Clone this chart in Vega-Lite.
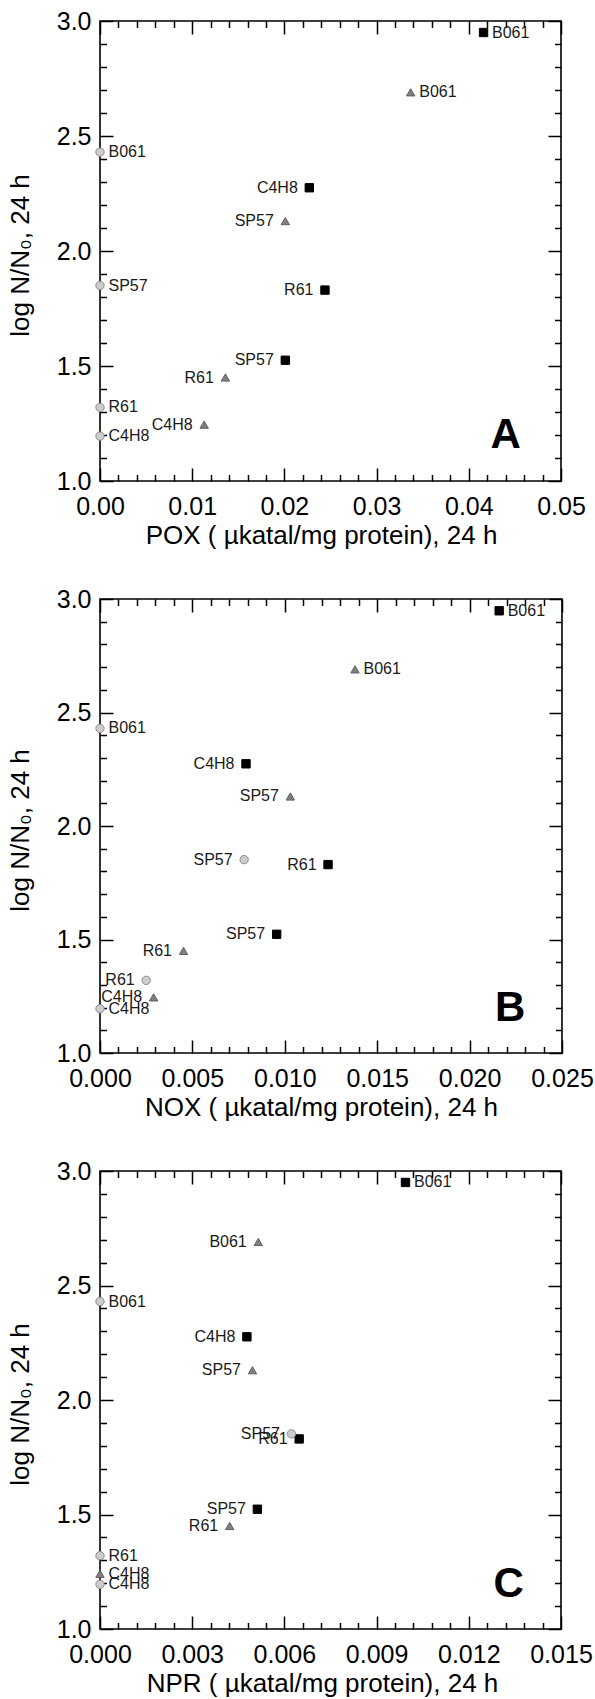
{
  "$schema": "https://vega.github.io/schema/vega-lite/v6.json",
  "background": "white",
  "padding": {"left": 6, "top": 8, "right": 0, "bottom": 0},
  "spacing": 118,
  "bounds": "flush",
  "datasets": {
    "pts": [
      {"panel": "A", "strain": "B061", "group": "sq", "x": 0.0416, "y": 2.95, "side": "right"},
      {"panel": "A", "strain": "C4H8", "group": "sq", "x": 0.0227, "y": 2.275, "side": "left"},
      {"panel": "A", "strain": "R61", "group": "sq", "x": 0.0244, "y": 1.83, "side": "left"},
      {"panel": "A", "strain": "SP57", "group": "sq", "x": 0.0201, "y": 1.525, "side": "left"},
      {"panel": "A", "strain": "B061", "group": "tri", "x": 0.0337, "y": 2.69, "side": "right"},
      {"panel": "A", "strain": "SP57", "group": "tri", "x": 0.0201, "y": 2.13, "side": "left"},
      {"panel": "A", "strain": "R61", "group": "tri", "x": 0.0136, "y": 1.45, "side": "left"},
      {"panel": "A", "strain": "C4H8", "group": "tri", "x": 0.0113, "y": 1.245, "side": "left"},
      {"panel": "A", "strain": "B061", "group": "circ", "x": 0, "y": 2.43, "side": "right"},
      {"panel": "A", "strain": "SP57", "group": "circ", "x": 0, "y": 1.85, "side": "right"},
      {"panel": "A", "strain": "R61", "group": "circ", "x": 0, "y": 1.32, "side": "right"},
      {"panel": "A", "strain": "C4H8", "group": "circ", "x": 0, "y": 1.195, "side": "right"},
      {"panel": "B", "strain": "B061", "group": "sq", "x": 0.0216, "y": 2.948, "side": "right"},
      {"panel": "B", "strain": "C4H8", "group": "sq", "x": 0.0079, "y": 2.274, "side": "left"},
      {"panel": "B", "strain": "R61", "group": "sq", "x": 0.01234, "y": 1.83, "side": "left"},
      {"panel": "B", "strain": "SP57", "group": "sq", "x": 0.00956, "y": 1.523, "side": "left"},
      {"panel": "B", "strain": "B061", "group": "tri", "x": 0.0138, "y": 2.69, "side": "right"},
      {"panel": "B", "strain": "SP57", "group": "tri", "x": 0.0103, "y": 2.13, "side": "left"},
      {"panel": "B", "strain": "R61", "group": "tri", "x": 0.00452, "y": 1.45, "side": "left"},
      {"panel": "B", "strain": "C4H8", "group": "tri", "x": 0.0029, "y": 1.245, "side": "left"},
      {"panel": "B", "strain": "B061", "group": "circ", "x": 0, "y": 2.43, "side": "right"},
      {"panel": "B", "strain": "SP57", "group": "circ", "x": 0.0078, "y": 1.852, "side": "left"},
      {"panel": "B", "strain": "R61", "group": "circ", "x": 0.0025, "y": 1.32, "side": "left"},
      {"panel": "B", "strain": "C4H8", "group": "circ", "x": 0, "y": 1.195, "side": "right"},
      {"panel": "C", "strain": "B061", "group": "sq", "x": 0.00994, "y": 2.95, "side": "right"},
      {"panel": "C", "strain": "C4H8", "group": "sq", "x": 0.00478, "y": 2.276, "side": "left"},
      {"panel": "C", "strain": "R61", "group": "sq", "x": 0.00648, "y": 1.83, "side": "left"},
      {"panel": "C", "strain": "SP57", "group": "sq", "x": 0.00512, "y": 1.523, "side": "left"},
      {"panel": "C", "strain": "B061", "group": "tri", "x": 0.00515, "y": 2.69, "side": "left"},
      {"panel": "C", "strain": "SP57", "group": "tri", "x": 0.00496, "y": 2.13, "side": "left"},
      {"panel": "C", "strain": "R61", "group": "tri", "x": 0.00422, "y": 1.45, "side": "left"},
      {"panel": "C", "strain": "C4H8", "group": "tri", "x": 0, "y": 1.241, "side": "right"},
      {"panel": "C", "strain": "B061", "group": "circ", "x": 0, "y": 2.43, "side": "right"},
      {"panel": "C", "strain": "SP57", "group": "circ", "x": 0.00623, "y": 1.852, "side": "left"},
      {"panel": "C", "strain": "R61", "group": "circ", "x": 0, "y": 1.32, "side": "right"},
      {"panel": "C", "strain": "C4H8", "group": "circ", "x": 0, "y": 1.195, "side": "right"}
    ],
    "letters": [
      {"panel": "A", "letter": "A", "x": 0.044, "y": 1.2},
      {"panel": "B", "letter": "B", "x": 0.0222, "y": 1.2},
      {"panel": "C", "letter": "C", "x": 0.0133, "y": 1.195}
    ]
  },
  "vconcat": [
    {
      "width": 461, "height": 460,
      "data": {"name": "pts"},
      "transform": [{"filter": "datum.panel === 'A'"}],
      "resolve": {"axis": {"x": "independent", "y": "independent"}},
      "layer": [
        {
          "mark": {"type": "point", "filled": true, "opacity": 1, "size": 70, "strokeWidth": 1},
          "encoding": {
            "x": {"field": "x", "type": "quantitative", "scale": {"domain": [0, 0.05], "nice": false, "zero": false},
              "axis": {"orient": "bottom", "title": "POX ( µkatal/mg protein), 24 h", "format": ".2f", "values": [0, 0.01, 0.02, 0.03, 0.04, 0.05], "grid": false, "domain": false, "ticks": true, "tickSize": -13, "tickColor": "#000000", "tickWidth": 1.5, "labelPadding": 26, "labelFlush": false, "labelFont": "Liberation Sans", "labelFontSize": 25, "labelColor": "#000000", "titleFont": "Liberation Sans", "titleFontSize": 26, "titleFontWeight": "normal", "titleColor": "#000000", "titleX": 221, "titleY": 62, "titleAlign": "center", "titleBaseline": "alphabetic", "titleAngle": 0}},
            "y": {"field": "y", "type": "quantitative", "scale": {"domain": [1, 3], "nice": false, "zero": false},
              "axis": {"orient": "left", "title": "log N/N₀, 24 h", "format": ".1f", "values": [1, 1.5, 2, 2.5, 3], "grid": false, "domain": false, "ticks": true, "tickSize": -13, "tickColor": "#000000", "tickWidth": 1.5, "labelPadding": 22, "labelFont": "Liberation Sans", "labelFontSize": 25, "labelColor": "#000000", "titleFont": "Liberation Sans", "titleFontSize": 26, "titleFontWeight": "normal", "titleColor": "#000000", "titleX": -72, "titleY": 234, "titleAngle": 270, "titleAlign": "center", "titleBaseline": "alphabetic"}},
            "shape": {"field": "group", "type": "nominal", "scale": {"domain": ["sq", "tri", "circ"], "range": ["square", "triangle-up", "circle"]}, "legend": null},
            "fill": {"field": "group", "type": "nominal", "scale": {"domain": ["sq", "tri", "circ"], "range": ["#000000", "#808080", "#cccccc"]}, "legend": null},
            "stroke": {"field": "group", "type": "nominal", "scale": {"domain": ["sq", "tri", "circ"], "range": ["#000000", "#606060", "#8a8a8a"]}, "legend": null}
          }
        },
        {
          "mark": {"type": "point", "opacity": 0},
          "encoding": {
            "x": {"field": "x", "type": "quantitative", "scale": {"domain": [0, 0.05], "nice": false, "zero": false},
              "axis": {"orient": "bottom", "title": null, "labels": false, "grid": false, "domain": false, "values": [0.002, 0.004, 0.006, 0.008, 0.012, 0.014, 0.016, 0.018, 0.022, 0.024, 0.026, 0.028, 0.032, 0.034, 0.036, 0.038, 0.042, 0.044, 0.046, 0.048], "ticks": true, "tickSize": -6.5, "tickColor": "#000000", "tickWidth": 1.5}},
            "y": {"field": "y", "type": "quantitative", "scale": {"domain": [1, 3], "nice": false, "zero": false},
              "axis": {"orient": "left", "title": null, "labels": false, "grid": false, "domain": false, "values": [1.1, 1.2, 1.3, 1.4, 1.6, 1.7, 1.8, 1.9, 2.1, 2.2, 2.3, 2.4, 2.6, 2.7, 2.8, 2.9], "ticks": true, "tickSize": -6.5, "tickColor": "#000000", "tickWidth": 1.5}}
          }
        },
        {
          "mark": {"type": "point", "opacity": 0},
          "encoding": {
            "x": {"field": "x", "type": "quantitative", "scale": {"domain": [0, 0.05], "nice": false, "zero": false},
              "axis": {"orient": "top", "title": null, "labels": false, "grid": false, "domain": false, "values": [0, 0.01, 0.02, 0.03, 0.04, 0.05], "ticks": true, "tickSize": -13, "tickColor": "#000000", "tickWidth": 1.5}},
            "y": {"field": "y", "type": "quantitative", "scale": {"domain": [1, 3], "nice": false, "zero": false},
              "axis": {"orient": "right", "title": null, "labels": false, "grid": false, "domain": false, "values": [1, 1.5, 2, 2.5, 3], "ticks": true, "tickSize": -13, "tickColor": "#000000", "tickWidth": 1.5}}
          }
        },
        {
          "mark": {"type": "point", "opacity": 0},
          "encoding": {
            "x": {"field": "x", "type": "quantitative", "scale": {"domain": [0, 0.05], "nice": false, "zero": false},
              "axis": {"orient": "top", "title": null, "labels": false, "grid": false, "domain": false, "values": [0.002, 0.004, 0.006, 0.008, 0.012, 0.014, 0.016, 0.018, 0.022, 0.024, 0.026, 0.028, 0.032, 0.034, 0.036, 0.038, 0.042, 0.044, 0.046, 0.048], "ticks": true, "tickSize": -6.5, "tickColor": "#000000", "tickWidth": 1.5}},
            "y": {"field": "y", "type": "quantitative", "scale": {"domain": [1, 3], "nice": false, "zero": false},
              "axis": {"orient": "right", "title": null, "labels": false, "grid": false, "domain": false, "values": [1.1, 1.2, 1.3, 1.4, 1.6, 1.7, 1.8, 1.9, 2.1, 2.2, 2.3, 2.4, 2.6, 2.7, 2.8, 2.9], "ticks": true, "tickSize": -6.5, "tickColor": "#000000", "tickWidth": 1.5}}
          }
        },
        {
          "transform": [{"filter": "datum.side === 'right'"}],
          "mark": {"type": "text", "align": "left", "baseline": "middle", "dx": 8.5, "fontSize": 16, "font": "Liberation Sans", "color": "#1a1a1a"},
          "encoding": {
            "x": {"field": "x", "type": "quantitative", "scale": {"domain": [0, 0.05], "nice": false, "zero": false}, "axis": null},
            "y": {"field": "y", "type": "quantitative", "scale": {"domain": [1, 3], "nice": false, "zero": false}, "axis": null},
            "text": {"field": "strain"}
          }
        },
        {
          "transform": [{"filter": "datum.side === 'left'"}],
          "mark": {"type": "text", "align": "right", "baseline": "middle", "dx": -11.5, "fontSize": 16, "font": "Liberation Sans", "color": "#1a1a1a"},
          "encoding": {
            "x": {"field": "x", "type": "quantitative", "scale": {"domain": [0, 0.05], "nice": false, "zero": false}, "axis": null},
            "y": {"field": "y", "type": "quantitative", "scale": {"domain": [1, 3], "nice": false, "zero": false}, "axis": null},
            "text": {"field": "strain"}
          }
        },
        {
          "data": {"name": "letters"},
          "transform": [{"filter": "datum.panel === 'A'"}],
          "mark": {"type": "text", "align": "center", "baseline": "middle", "fontSize": 42, "fontWeight": "bold", "font": "Liberation Sans", "color": "#000"},
          "encoding": {
            "x": {"field": "x", "type": "quantitative", "scale": {"domain": [0, 0.05], "nice": false, "zero": false}, "axis": null},
            "y": {"field": "y", "type": "quantitative", "scale": {"domain": [1, 3], "nice": false, "zero": false}, "axis": null},
            "text": {"field": "letter"}
          }
        }
      ]
    },
    {
      "width": 462, "height": 454,
      "data": {"name": "pts"},
      "transform": [{"filter": "datum.panel === 'B'"}],
      "resolve": {"axis": {"x": "independent", "y": "independent"}},
      "layer": [
        {
          "mark": {"type": "point", "filled": true, "opacity": 1, "size": 70, "strokeWidth": 1},
          "encoding": {
            "x": {"field": "x", "type": "quantitative", "scale": {"domain": [0, 0.025], "nice": false, "zero": false},
              "axis": {"orient": "bottom", "title": "NOX ( µkatal/mg protein), 24 h", "format": ".3f", "values": [0, 0.005, 0.01, 0.015, 0.02, 0.025], "grid": false, "domain": false, "ticks": true, "tickSize": -13, "tickColor": "#000000", "tickWidth": 1.5, "labelPadding": 26, "labelFlush": false, "labelFont": "Liberation Sans", "labelFontSize": 25, "labelColor": "#000000", "titleFont": "Liberation Sans", "titleFontSize": 26, "titleFontWeight": "normal", "titleColor": "#000000", "titleX": 221, "titleY": 62, "titleAlign": "center", "titleBaseline": "alphabetic", "titleAngle": 0}},
            "y": {"field": "y", "type": "quantitative", "scale": {"domain": [1, 3], "nice": false, "zero": false},
              "axis": {"orient": "left", "title": "log N/N₀, 24 h", "format": ".1f", "values": [1, 1.5, 2, 2.5, 3], "grid": false, "domain": false, "ticks": true, "tickSize": -13, "tickColor": "#000000", "tickWidth": 1.5, "labelPadding": 22, "labelFont": "Liberation Sans", "labelFontSize": 25, "labelColor": "#000000", "titleFont": "Liberation Sans", "titleFontSize": 26, "titleFontWeight": "normal", "titleColor": "#000000", "titleX": -72, "titleY": 231, "titleAngle": 270, "titleAlign": "center", "titleBaseline": "alphabetic"}},
            "shape": {"field": "group", "type": "nominal", "scale": {"domain": ["sq", "tri", "circ"], "range": ["square", "triangle-up", "circle"]}, "legend": null},
            "fill": {"field": "group", "type": "nominal", "scale": {"domain": ["sq", "tri", "circ"], "range": ["#000000", "#808080", "#cccccc"]}, "legend": null},
            "stroke": {"field": "group", "type": "nominal", "scale": {"domain": ["sq", "tri", "circ"], "range": ["#000000", "#606060", "#8a8a8a"]}, "legend": null}
          }
        },
        {
          "mark": {"type": "point", "opacity": 0},
          "encoding": {
            "x": {"field": "x", "type": "quantitative", "scale": {"domain": [0, 0.025], "nice": false, "zero": false},
              "axis": {"orient": "bottom", "title": null, "labels": false, "grid": false, "domain": false, "values": [0.001, 0.002, 0.003, 0.004, 0.006, 0.007, 0.008, 0.009, 0.011, 0.012, 0.013, 0.014, 0.016, 0.017, 0.018, 0.019, 0.021, 0.022, 0.023, 0.024], "ticks": true, "tickSize": -6.5, "tickColor": "#000000", "tickWidth": 1.5}},
            "y": {"field": "y", "type": "quantitative", "scale": {"domain": [1, 3], "nice": false, "zero": false},
              "axis": {"orient": "left", "title": null, "labels": false, "grid": false, "domain": false, "values": [1.1, 1.2, 1.3, 1.4, 1.6, 1.7, 1.8, 1.9, 2.1, 2.2, 2.3, 2.4, 2.6, 2.7, 2.8, 2.9], "ticks": true, "tickSize": -6.5, "tickColor": "#000000", "tickWidth": 1.5}}
          }
        },
        {
          "mark": {"type": "point", "opacity": 0},
          "encoding": {
            "x": {"field": "x", "type": "quantitative", "scale": {"domain": [0, 0.025], "nice": false, "zero": false},
              "axis": {"orient": "top", "title": null, "labels": false, "grid": false, "domain": false, "values": [0, 0.005, 0.01, 0.015, 0.02, 0.025], "ticks": true, "tickSize": -13, "tickColor": "#000000", "tickWidth": 1.5}},
            "y": {"field": "y", "type": "quantitative", "scale": {"domain": [1, 3], "nice": false, "zero": false},
              "axis": {"orient": "right", "title": null, "labels": false, "grid": false, "domain": false, "values": [1, 1.5, 2, 2.5, 3], "ticks": true, "tickSize": -13, "tickColor": "#000000", "tickWidth": 1.5}}
          }
        },
        {
          "mark": {"type": "point", "opacity": 0},
          "encoding": {
            "x": {"field": "x", "type": "quantitative", "scale": {"domain": [0, 0.025], "nice": false, "zero": false},
              "axis": {"orient": "top", "title": null, "labels": false, "grid": false, "domain": false, "values": [0.001, 0.002, 0.003, 0.004, 0.006, 0.007, 0.008, 0.009, 0.011, 0.012, 0.013, 0.014, 0.016, 0.017, 0.018, 0.019, 0.021, 0.022, 0.023, 0.024], "ticks": true, "tickSize": -6.5, "tickColor": "#000000", "tickWidth": 1.5}},
            "y": {"field": "y", "type": "quantitative", "scale": {"domain": [1, 3], "nice": false, "zero": false},
              "axis": {"orient": "right", "title": null, "labels": false, "grid": false, "domain": false, "values": [1.1, 1.2, 1.3, 1.4, 1.6, 1.7, 1.8, 1.9, 2.1, 2.2, 2.3, 2.4, 2.6, 2.7, 2.8, 2.9], "ticks": true, "tickSize": -6.5, "tickColor": "#000000", "tickWidth": 1.5}}
          }
        },
        {
          "transform": [{"filter": "datum.side === 'right'"}],
          "mark": {"type": "text", "align": "left", "baseline": "middle", "dx": 8.5, "fontSize": 16, "font": "Liberation Sans", "color": "#1a1a1a"},
          "encoding": {
            "x": {"field": "x", "type": "quantitative", "scale": {"domain": [0, 0.025], "nice": false, "zero": false}, "axis": null},
            "y": {"field": "y", "type": "quantitative", "scale": {"domain": [1, 3], "nice": false, "zero": false}, "axis": null},
            "text": {"field": "strain"}
          }
        },
        {
          "transform": [{"filter": "datum.side === 'left'"}],
          "mark": {"type": "text", "align": "right", "baseline": "middle", "dx": -11.5, "fontSize": 16, "font": "Liberation Sans", "color": "#1a1a1a"},
          "encoding": {
            "x": {"field": "x", "type": "quantitative", "scale": {"domain": [0, 0.025], "nice": false, "zero": false}, "axis": null},
            "y": {"field": "y", "type": "quantitative", "scale": {"domain": [1, 3], "nice": false, "zero": false}, "axis": null},
            "text": {"field": "strain"}
          }
        },
        {
          "data": {"name": "letters"},
          "transform": [{"filter": "datum.panel === 'B'"}],
          "mark": {"type": "text", "align": "center", "baseline": "middle", "fontSize": 42, "fontWeight": "bold", "font": "Liberation Sans", "color": "#000"},
          "encoding": {
            "x": {"field": "x", "type": "quantitative", "scale": {"domain": [0, 0.025], "nice": false, "zero": false}, "axis": null},
            "y": {"field": "y", "type": "quantitative", "scale": {"domain": [1, 3], "nice": false, "zero": false}, "axis": null},
            "text": {"field": "letter"}
          }
        }
      ]
    },
    {
      "width": 461, "height": 458,
      "data": {"name": "pts"},
      "transform": [{"filter": "datum.panel === 'C'"}],
      "resolve": {"axis": {"x": "independent", "y": "independent"}},
      "layer": [
        {
          "mark": {"type": "point", "filled": true, "opacity": 1, "size": 70, "strokeWidth": 1},
          "encoding": {
            "x": {"field": "x", "type": "quantitative", "scale": {"domain": [0, 0.015], "nice": false, "zero": false},
              "axis": {"orient": "bottom", "title": "NPR ( µkatal/mg protein), 24 h", "format": ".3f", "values": [0, 0.003, 0.006, 0.009, 0.012, 0.015], "grid": false, "domain": false, "ticks": true, "tickSize": -13, "tickColor": "#000000", "tickWidth": 1.5, "labelPadding": 26, "labelFlush": false, "labelFont": "Liberation Sans", "labelFontSize": 25, "labelColor": "#000000", "titleFont": "Liberation Sans", "titleFontSize": 26, "titleFontWeight": "normal", "titleColor": "#000000", "titleX": 222, "titleY": 62, "titleAlign": "center", "titleBaseline": "alphabetic", "titleAngle": 0}},
            "y": {"field": "y", "type": "quantitative", "scale": {"domain": [1, 3], "nice": false, "zero": false},
              "axis": {"orient": "left", "title": "log N/N₀, 24 h", "format": ".1f", "values": [1, 1.5, 2, 2.5, 3], "grid": false, "domain": false, "ticks": true, "tickSize": -13, "tickColor": "#000000", "tickWidth": 1.5, "labelPadding": 22, "labelFont": "Liberation Sans", "labelFontSize": 25, "labelColor": "#000000", "titleFont": "Liberation Sans", "titleFontSize": 26, "titleFontWeight": "normal", "titleColor": "#000000", "titleX": -72, "titleY": 233, "titleAngle": 270, "titleAlign": "center", "titleBaseline": "alphabetic"}},
            "shape": {"field": "group", "type": "nominal", "scale": {"domain": ["sq", "tri", "circ"], "range": ["square", "triangle-up", "circle"]}, "legend": null},
            "fill": {"field": "group", "type": "nominal", "scale": {"domain": ["sq", "tri", "circ"], "range": ["#000000", "#808080", "#cccccc"]}, "legend": null},
            "stroke": {"field": "group", "type": "nominal", "scale": {"domain": ["sq", "tri", "circ"], "range": ["#000000", "#606060", "#8a8a8a"]}, "legend": null}
          }
        },
        {
          "mark": {"type": "point", "opacity": 0},
          "encoding": {
            "x": {"field": "x", "type": "quantitative", "scale": {"domain": [0, 0.015], "nice": false, "zero": false},
              "axis": {"orient": "bottom", "title": null, "labels": false, "grid": false, "domain": false, "values": [0.0006, 0.0012, 0.0018, 0.0024, 0.0036, 0.0042, 0.0048, 0.0054, 0.0066, 0.0072, 0.0078, 0.0084, 0.0096, 0.0102, 0.0108, 0.0114, 0.0126, 0.0132, 0.0138, 0.0144], "ticks": true, "tickSize": -6.5, "tickColor": "#000000", "tickWidth": 1.5}},
            "y": {"field": "y", "type": "quantitative", "scale": {"domain": [1, 3], "nice": false, "zero": false},
              "axis": {"orient": "left", "title": null, "labels": false, "grid": false, "domain": false, "values": [1.1, 1.2, 1.3, 1.4, 1.6, 1.7, 1.8, 1.9, 2.1, 2.2, 2.3, 2.4, 2.6, 2.7, 2.8, 2.9], "ticks": true, "tickSize": -6.5, "tickColor": "#000000", "tickWidth": 1.5}}
          }
        },
        {
          "mark": {"type": "point", "opacity": 0},
          "encoding": {
            "x": {"field": "x", "type": "quantitative", "scale": {"domain": [0, 0.015], "nice": false, "zero": false},
              "axis": {"orient": "top", "title": null, "labels": false, "grid": false, "domain": false, "values": [0, 0.003, 0.006, 0.009, 0.012, 0.015], "ticks": true, "tickSize": -13, "tickColor": "#000000", "tickWidth": 1.5}},
            "y": {"field": "y", "type": "quantitative", "scale": {"domain": [1, 3], "nice": false, "zero": false},
              "axis": {"orient": "right", "title": null, "labels": false, "grid": false, "domain": false, "values": [1, 1.5, 2, 2.5, 3], "ticks": true, "tickSize": -13, "tickColor": "#000000", "tickWidth": 1.5}}
          }
        },
        {
          "mark": {"type": "point", "opacity": 0},
          "encoding": {
            "x": {"field": "x", "type": "quantitative", "scale": {"domain": [0, 0.015], "nice": false, "zero": false},
              "axis": {"orient": "top", "title": null, "labels": false, "grid": false, "domain": false, "values": [0.0006, 0.0012, 0.0018, 0.0024, 0.0036, 0.0042, 0.0048, 0.0054, 0.0066, 0.0072, 0.0078, 0.0084, 0.0096, 0.0102, 0.0108, 0.0114, 0.0126, 0.0132, 0.0138, 0.0144], "ticks": true, "tickSize": -6.5, "tickColor": "#000000", "tickWidth": 1.5}},
            "y": {"field": "y", "type": "quantitative", "scale": {"domain": [1, 3], "nice": false, "zero": false},
              "axis": {"orient": "right", "title": null, "labels": false, "grid": false, "domain": false, "values": [1.1, 1.2, 1.3, 1.4, 1.6, 1.7, 1.8, 1.9, 2.1, 2.2, 2.3, 2.4, 2.6, 2.7, 2.8, 2.9], "ticks": true, "tickSize": -6.5, "tickColor": "#000000", "tickWidth": 1.5}}
          }
        },
        {
          "transform": [{"filter": "datum.side === 'right'"}],
          "mark": {"type": "text", "align": "left", "baseline": "middle", "dx": 8.5, "fontSize": 16, "font": "Liberation Sans", "color": "#1a1a1a"},
          "encoding": {
            "x": {"field": "x", "type": "quantitative", "scale": {"domain": [0, 0.015], "nice": false, "zero": false}, "axis": null},
            "y": {"field": "y", "type": "quantitative", "scale": {"domain": [1, 3], "nice": false, "zero": false}, "axis": null},
            "text": {"field": "strain"}
          }
        },
        {
          "transform": [{"filter": "datum.side === 'left'"}],
          "mark": {"type": "text", "align": "right", "baseline": "middle", "dx": -11.5, "fontSize": 16, "font": "Liberation Sans", "color": "#1a1a1a"},
          "encoding": {
            "x": {"field": "x", "type": "quantitative", "scale": {"domain": [0, 0.015], "nice": false, "zero": false}, "axis": null},
            "y": {"field": "y", "type": "quantitative", "scale": {"domain": [1, 3], "nice": false, "zero": false}, "axis": null},
            "text": {"field": "strain"}
          }
        },
        {
          "data": {"name": "letters"},
          "transform": [{"filter": "datum.panel === 'C'"}],
          "mark": {"type": "text", "align": "center", "baseline": "middle", "fontSize": 42, "fontWeight": "bold", "font": "Liberation Sans", "color": "#000"},
          "encoding": {
            "x": {"field": "x", "type": "quantitative", "scale": {"domain": [0, 0.015], "nice": false, "zero": false}, "axis": null},
            "y": {"field": "y", "type": "quantitative", "scale": {"domain": [1, 3], "nice": false, "zero": false}, "axis": null},
            "text": {"field": "letter"}
          }
        }
      ]
    }
  ],
  "config": {
    "view": {"stroke": "#000000", "strokeWidth": 1.6}
  }
}
